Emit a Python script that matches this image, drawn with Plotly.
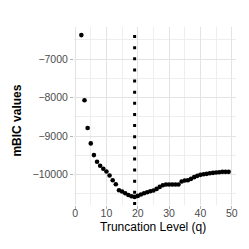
import plotly.graph_objects as go

q = list(range(2, 50))
mbic = [-6373, -8070, -8791, -9191, -9496, -9670, -9775, -9851, -9922, -10027,
        -10149, -10253, -10410, -10444, -10488, -10533, -10567, -10584, -10558, -10523,
        -10488, -10462, -10436, -10418, -10375, -10323, -10279, -10262, -10262, -10262,
        -10262, -10262, -10184, -10158, -10149, -10114, -10070, -10036, -10010, -9993,
        -9984, -9967, -9958, -9950, -9941, -9932, -9932, -9932]
best_q = 19
x_ticks = [0, 10, 20, 30, 40, 50]
x_tick_labels = ["0", "10", "20", "30", "40", "50"]
y_ticks = [-10000, -9000, -8000, -7000]
y_tick_labels = ["\u221210000", "\u22129000", "\u22128000", "\u22127000"]

fig = go.Figure()
fig.add_trace(go.Scatter(x=q, y=mbic, mode="markers",
                         marker=dict(color="black", size=4.6, line=dict(width=0)),
                         showlegend=False, cliponaxis=False))
fig.add_shape(type="line", xref="x", yref="paper", x0=best_q, x1=best_q, y0=0, y1=1,
              line=dict(color="black", width=3, dash="3px,8.13px"))

ymin, ymax = min(mbic), max(mbic)
ypad = (ymax - ymin) * 0.05
xpad = (max(q) - min(q)) * 0.05

fig.update_layout(
    width=249, height=249,
    margin=dict(l=74, r=13, t=27, b=44, autoexpand=False),
    plot_bgcolor="white", paper_bgcolor="white",
    font=dict(family="Liberation Sans, Arial, sans-serif", color="black"),
    xaxis=dict(range=[min(q) - xpad, max(q) + xpad], tickmode="array",
               tickvals=x_ticks, ticktext=x_tick_labels,
               ticks="outside", ticklen=3, tickcolor="#B3B3B3", tickwidth=1,
               tickfont=dict(size=10.5, color="#4D4D4D"), ticklabeloverflow="allow",
               ticklabelstandoff=-5,
               showgrid=True, gridcolor="#E3E3E3", gridwidth=1,
               minor=dict(tickvals=[5, 15, 25, 35, 45], showgrid=True, gridcolor="#EEEEEE", gridwidth=1),
               zeroline=False, showline=False, automargin=False),
    yaxis=dict(range=[ymin - ypad, ymax + ypad], tickmode="array",
               tickvals=y_ticks, ticktext=y_tick_labels,
               ticks="outside", ticklen=3, tickcolor="#B3B3B3", tickwidth=1,
               tickfont=dict(size=10.5, color="#4D4D4D"),
               showgrid=True, gridcolor="#E3E3E3", gridwidth=1,
               minor=dict(tickvals=[-10500, -9500, -8500, -7500, -6500], showgrid=True,
                          gridcolor="#EEEEEE", gridwidth=1),
               zeroline=False, showline=False, automargin=False),
    annotations=[
        dict(text="Truncation Level (q)", xref="paper", yref="paper", x=0.49, y=-0.124,
             xanchor="center", yanchor="middle", showarrow=False, font=dict(size=12)),
        dict(text="<b>mBIC values</b>", xref="paper", yref="paper", x=-0.352, y=0.474,
             xanchor="center", yanchor="middle", textangle=-90, showarrow=False,
             font=dict(size=12)),
    ],
)
fig.write_html("out.html", config={"displayModeBar": False},
               post_script="document.body.style.margin='0';document.body.style.overflow='hidden';")
